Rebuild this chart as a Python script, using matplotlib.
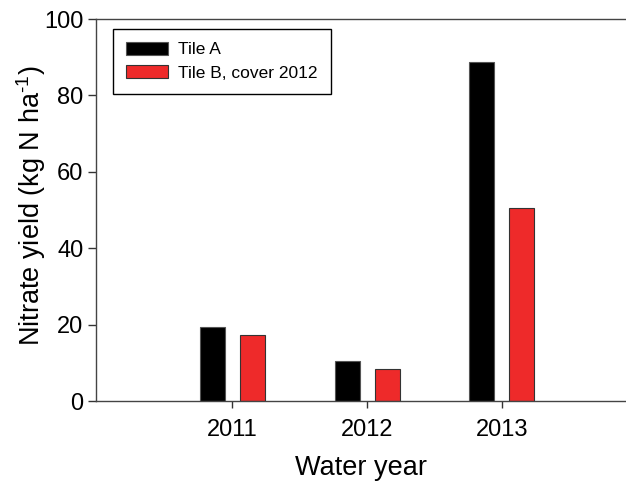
import numpy as np
import matplotlib.pyplot as plt

plt.rcParams['font.family'] = ['Liberation Sans', 'DejaVu Sans']
plt.rcParams['mathtext.fontset'] = 'custom'
plt.rcParams['mathtext.rm'] = 'Liberation Sans'

years = [2011, 2012, 2013]
tile_a = [19.4, 10.5, 88.8]
tile_b = [17.3, 8.4, 50.6]
labels = ['Tile A', 'Tile B, cover 2012']

fig = plt.figure(figsize=(6.26, 4.87), dpi=100)
ax = fig.add_axes([96 / 626, 86 / 487, 530 / 626, 382 / 487])

x = np.array(years, dtype=float)
w = 0.185
ax.bar(x - 0.148, tile_a, w, color='black', edgecolor='#555555', linewidth=0.8, label=labels[0])
ax.bar(x + 0.148, tile_b, w, color='#ee2a2a', edgecolor='#333333', linewidth=0.8, label=labels[1])

ax.set_xlim(2009.99, 2013.92)
ax.set_ylim(0, 100)
ax.set_xticks(years)
ax.set_yticks([0, 20, 40, 60, 80, 100])
ax.tick_params(axis='both', direction='out', labelsize=17, width=1, color='#333333')
ax.tick_params(axis='y', length=6, pad=3)
ax.tick_params(axis='x', length=5, pad=8)

ax.spines['right'].set_visible(False)
for s in ['left', 'top', 'bottom']:
    ax.spines[s].set_linewidth(1)
    ax.spines[s].set_color('#444444')

ax.set_xlabel('Water year', fontsize=19.5, labelpad=10)
ax.set_ylabel('Nitrate yield (kg N ha$^{\\mathregular{\u20101}}$)', fontsize=19.5)
ax.yaxis.set_label_coords(-0.09, 0.512)

leg = ax.legend(loc='upper left', bbox_to_anchor=(0.032, 0.974), fontsize=12.5,
                fancybox=False, edgecolor='black', framealpha=1,
                handlelength=2.4, handleheight=0.75, handletextpad=0.6,
                borderpad=0.75, borderaxespad=0, labelspacing=0.45)
leg.get_frame().set_linewidth(1)

fig.savefig('out.png', dpi=100)
